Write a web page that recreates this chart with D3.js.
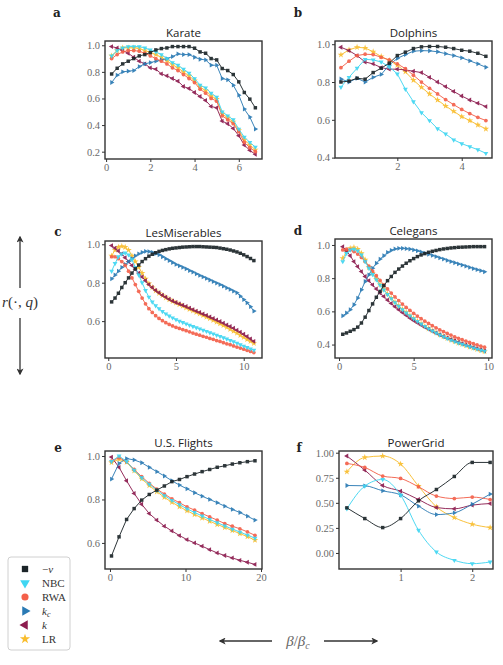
<!DOCTYPE html>
<html>
<head>
<meta charset="utf-8">
<script src="https://cdn.jsdelivr.net/npm/d3@7/dist/d3.min.js"></script>
<style>
body { margin: 0; background: #fff; }
.tick text { fill: #6a6a6a; }
.tick line { stroke: #333; }
.title { font-family: "Open Sans", "DejaVu Sans", sans-serif; font-size: 11.5px; fill: #222; }
.letter { font-family: "DejaVu Serif", serif; font-weight: bold; font-size: 12px; fill: #222; }
</style>
</head>
<body>
<div id="chart"></div>
<script>
// ---- data ----
var seriesLabels = ["-v", "NBC", "RWA", "kc", "k", "LR"];
var seriesColors = ["#1b2428", "#3fd6f2", "#f4604a", "#2a7ab4", "#8d1c4f", "#f9bd2d"];

var karateX = d3.range(0.25, 6.76, 0.25);
var karate_v   = [0.784,0.827,0.86,0.88,0.90,0.92,0.93,0.945,0.965,0.975,0.98,0.99,0.99,0.99,0.99,0.978,0.95,0.94,0.90,0.89,0.825,0.81,0.78,0.725,0.645,0.595,0.53];
var karate_nbc = [0.92,0.96,0.98,0.99,0.99,0.99,0.98,0.965,0.95,0.93,0.90,0.87,0.85,0.82,0.79,0.75,0.70,0.68,0.64,0.61,0.50,0.47,0.44,0.37,0.31,0.27,0.235];
var karate_rwa = [0.90,0.93,0.95,0.96,0.96,0.955,0.94,0.92,0.90,0.88,0.86,0.83,0.81,0.78,0.75,0.72,0.67,0.64,0.60,0.58,0.47,0.44,0.41,0.35,0.27,0.23,0.20];
var karate_kc  = [0.72,0.775,0.80,0.805,0.81,0.84,0.86,0.87,0.88,0.89,0.90,0.915,0.935,0.93,0.93,0.91,0.895,0.89,0.85,0.85,0.75,0.74,0.70,0.625,0.52,0.46,0.37];
var karate_k   = [0.99,0.98,0.96,0.94,0.91,0.88,0.86,0.83,0.82,0.785,0.77,0.75,0.73,0.69,0.675,0.645,0.615,0.585,0.54,0.53,0.43,0.41,0.375,0.32,0.25,0.21,0.18];
var karate_lr  = [0.92,0.96,0.98,0.98,0.98,0.975,0.96,0.945,0.93,0.91,0.885,0.855,0.83,0.80,0.77,0.735,0.685,0.66,0.62,0.595,0.485,0.455,0.425,0.36,0.29,0.25,0.215];

var dolphinsX = d3.range(0.25, 4.76, 0.25);
var dolphins_v   = [0.80,0.805,0.82,0.815,0.85,0.873,0.90,0.94,0.958,0.977,0.986,0.988,0.988,0.984,0.977,0.968,0.963,0.952,0.936];
var dolphins_nbc = [0.773,0.825,0.873,0.92,0.917,0.906,0.88,0.843,0.762,0.696,0.638,0.596,0.553,0.525,0.494,0.474,0.458,0.442,0.423];
var dolphins_rwa = [0.876,0.91,0.94,0.947,0.945,0.931,0.917,0.896,0.871,0.836,0.80,0.767,0.737,0.707,0.68,0.655,0.633,0.613,0.596];
var dolphins_kc  = [0.816,0.80,0.82,0.80,0.825,0.84,0.89,0.925,0.945,0.963,0.966,0.965,0.96,0.95,0.94,0.928,0.912,0.896,0.878];
var dolphins_k   = [0.984,0.966,0.94,0.906,0.896,0.876,0.868,0.868,0.864,0.857,0.85,0.825,0.80,0.776,0.75,0.726,0.705,0.688,0.67];
var dolphins_lr  = [0.944,0.97,0.984,0.98,0.96,0.935,0.914,0.889,0.854,0.81,0.772,0.737,0.705,0.673,0.645,0.617,0.596,0.573,0.552];

var lesmisX = d3.range(0.25, 10.76, 0.25);
var lesmis_v   = [0.70,0.72,0.745,0.775,0.80,0.825,0.85,0.872,0.892,0.91,0.925,0.938,0.948,0.956,0.963,0.968,0.972,0.976,0.979,0.981,0.983,0.985,0.986,0.987,0.988,0.988,0.988,0.987,0.986,0.985,0.984,0.983,0.98,0.977,0.974,0.97,0.965,0.96,0.953,0.945,0.936,0.926,0.915];
var lesmis_nbc = [0.86,0.9,0.935,0.95,0.955,0.945,0.92,0.88,0.84,0.80,0.76,0.725,0.70,0.68,0.665,0.65,0.638,0.627,0.617,0.608,0.60,0.593,0.586,0.579,0.572,0.566,0.56,0.553,0.547,0.54,0.534,0.527,0.521,0.514,0.507,0.50,0.493,0.486,0.478,0.47,0.463,0.456,0.449];
var lesmis_rwa = [0.935,0.935,0.925,0.91,0.89,0.86,0.825,0.79,0.755,0.72,0.69,0.665,0.645,0.628,0.614,0.602,0.592,0.583,0.575,0.568,0.562,0.556,0.55,0.544,0.538,0.532,0.527,0.521,0.516,0.51,0.505,0.499,0.494,0.488,0.482,0.477,0.471,0.465,0.46,0.454,0.448,0.442,0.436];
var lesmis_kc  = [0.82,0.84,0.86,0.88,0.895,0.91,0.925,0.94,0.95,0.958,0.963,0.962,0.958,0.952,0.945,0.935,0.925,0.915,0.905,0.895,0.888,0.88,0.872,0.863,0.855,0.846,0.838,0.83,0.822,0.814,0.806,0.798,0.79,0.782,0.773,0.765,0.756,0.747,0.73,0.712,0.695,0.675,0.652];
var lesmis_k   = [0.993,0.98,0.965,0.95,0.93,0.91,0.89,0.87,0.85,0.83,0.81,0.79,0.775,0.76,0.748,0.735,0.725,0.714,0.705,0.697,0.69,0.683,0.676,0.668,0.66,0.652,0.645,0.637,0.63,0.622,0.614,0.606,0.598,0.59,0.58,0.572,0.563,0.553,0.543,0.532,0.52,0.508,0.495];
var lesmis_lr  = [0.94,0.97,0.985,0.99,0.985,0.97,0.94,0.91,0.88,0.85,0.82,0.795,0.775,0.758,0.745,0.733,0.722,0.712,0.703,0.695,0.687,0.679,0.67,0.662,0.654,0.646,0.638,0.63,0.622,0.614,0.605,0.596,0.587,0.578,0.568,0.558,0.548,0.538,0.527,0.516,0.505,0.495,0.485];

var celegansX = d3.range(0.25, 9.76, 0.25);
var celegans_v   = [0.462,0.47,0.48,0.49,0.505,0.53,0.565,0.605,0.645,0.685,0.72,0.755,0.785,0.81,0.835,0.855,0.873,0.89,0.905,0.918,0.93,0.94,0.948,0.956,0.962,0.967,0.972,0.976,0.979,0.982,0.984,0.986,0.987,0.988,0.989,0.99,0.99,0.99,0.99];
var celegans_nbc = [0.9,0.95,0.97,0.975,0.965,0.94,0.9,0.86,0.823,0.79,0.758,0.729,0.702,0.677,0.653,0.631,0.61,0.591,0.573,0.556,0.54,0.524,0.509,0.495,0.482,0.47,0.458,0.447,0.437,0.427,0.418,0.41,0.402,0.394,0.387,0.38,0.373,0.366,0.36];
var celegans_rwa = [0.97,0.975,0.97,0.96,0.945,0.925,0.9,0.872,0.843,0.815,0.787,0.76,0.735,0.71,0.687,0.665,0.644,0.624,0.606,0.588,0.572,0.556,0.541,0.527,0.514,0.501,0.489,0.478,0.467,0.457,0.447,0.438,0.429,0.421,0.413,0.405,0.398,0.391,0.384];
var celegans_kc  = [0.573,0.59,0.61,0.64,0.68,0.73,0.78,0.82,0.86,0.89,0.915,0.935,0.955,0.968,0.976,0.98,0.98,0.978,0.975,0.97,0.965,0.958,0.951,0.944,0.937,0.93,0.922,0.915,0.907,0.90,0.893,0.886,0.879,0.872,0.865,0.858,0.851,0.845,0.838];
var celegans_k   = [0.99,0.965,0.935,0.9,0.87,0.84,0.81,0.785,0.76,0.735,0.71,0.69,0.668,0.648,0.628,0.61,0.593,0.576,0.56,0.545,0.531,0.518,0.505,0.493,0.481,0.47,0.459,0.449,0.44,0.431,0.423,0.414,0.406,0.398,0.39,0.383,0.376,0.369,0.362];
var celegans_lr  = [0.92,0.96,0.98,0.985,0.975,0.95,0.91,0.865,0.83,0.795,0.762,0.733,0.705,0.68,0.656,0.634,0.613,0.594,0.575,0.558,0.541,0.525,0.51,0.496,0.483,0.471,0.459,0.448,0.438,0.428,0.419,0.41,0.402,0.394,0.386,0.379,0.372,0.365,0.358];

var flightsX = d3.range(0.2, 19.3, 1);
var flights_v   = [0.54,0.628,0.708,0.758,0.797,0.823,0.843,0.862,0.882,0.892,0.905,0.917,0.928,0.938,0.948,0.955,0.963,0.969,0.974,0.978];
var flights_nbc = [0.975,1.0,0.975,0.935,0.9,0.87,0.843,0.818,0.796,0.776,0.757,0.74,0.724,0.708,0.693,0.678,0.664,0.65,0.636,0.622];
var flights_rwa = [0.977,0.992,0.974,0.938,0.905,0.874,0.848,0.825,0.803,0.785,0.766,0.751,0.735,0.72,0.705,0.689,0.677,0.665,0.651,0.635];
var flights_kc  = [0.894,0.966,0.988,0.982,0.969,0.948,0.928,0.908,0.886,0.866,0.849,0.831,0.815,0.80,0.785,0.769,0.754,0.74,0.723,0.705];
var flights_k   = [0.995,0.948,0.886,0.828,0.778,0.735,0.705,0.677,0.655,0.634,0.615,0.60,0.585,0.569,0.554,0.542,0.531,0.52,0.511,0.501];
var flights_lr  = [0.97,0.985,0.972,0.932,0.895,0.864,0.836,0.81,0.787,0.767,0.748,0.731,0.715,0.7,0.685,0.671,0.657,0.643,0.629,0.613];

var powerX = d3.range(0.25, 2.26, 0.25);
var power_v   = [0.45,0.343,0.253,0.343,0.52,0.633,0.763,0.903,0.903];
var power_nbc = [0.44,0.667,0.733,0.577,0.227,0.01,-0.073,-0.107,-0.09];
var power_rwa = [0.893,0.853,0.767,0.743,0.66,0.567,0.543,0.557,0.533];
var power_kc  = [0.673,0.67,0.62,0.58,0.467,0.383,0.40,0.487,0.587];
var power_k   = [0.967,0.827,0.673,0.617,0.533,0.453,0.44,0.477,0.493];
var power_lr  = [0.81,0.953,0.967,0.887,0.667,0.46,0.353,0.287,0.253];

// ---- layout ----
var fullWidth = 503, fullHeight = 665;

var panels = [
  {letter:"a", title:"Karate", x:karateX, ys:[karate_v,karate_nbc,karate_rwa,karate_kc,karate_k,karate_lr],
   left:105, top:41, w:157, h:118, xd:[-0.05,7.05], yd:[0.145,1.032], xt:[0,2,4,6], yt:[0.2,0.4,0.6,0.8,1.0], yf:".1f", lx:57, ly:17},
  {letter:"b", title:"Dolphins", x:dolphinsX, ys:[dolphins_v,dolphins_nbc,dolphins_rwa,dolphins_kc,dolphins_k,dolphins_lr],
   left:335, top:41, w:157, h:117, xd:[0.065,4.94], yd:[0.398,1.017], xt:[2,4], yt:[0.4,0.6,0.8,1.0], yf:".1f", lx:298, ly:17},
  {letter:"c", title:"LesMiserables", x:lesmisX, ys:[lesmis_v,lesmis_nbc,lesmis_rwa,lesmis_kc,lesmis_k,lesmis_lr],
   left:105, top:241, w:157, h:117, xd:[-0.24,11.35], yd:[0.408,1.017], xt:[0,5,10], yt:[0.6,0.8,1.0], yf:".1f", lx:58, ly:236},
  {letter:"d", title:"Celegans", x:celegansX, ys:[celegans_v,celegans_nbc,celegans_rwa,celegans_kc,celegans_k,celegans_lr],
   left:335, top:239, w:157, h:119, xd:[-0.27,10.25], yd:[0.319,1.036], xt:[0,5,10], yt:[0.4,0.6,0.8,1.0], yf:".1f", lx:298, ly:235},
  {letter:"e", title:"U.S. Flights", x:flightsX, ys:[flights_v,flights_nbc,flights_rwa,flights_kc,flights_k,flights_lr],
   left:105, top:451, w:157, h:118, xd:[-0.66,20.13], yd:[0.48,1.023], xt:[0,10,20], yt:[0.6,0.8,1.0], yf:".1f", lx:58, ly:452},
  {letter:"f", title:"PowerGrid", x:powerX, ys:[power_v,power_nbc,power_rwa,power_kc,power_k,power_lr],
   left:339, top:451, w:154, h:118, xd:[0.14,2.29], yd:[-0.16,1.017], xt:[1,2], yt:[0,0.25,0.5,0.75,1.0], yf:".2f", lx:299, ly:452, smooth:true}
];

var symbolTypes = [d3.symbolSquare, d3.symbolTriangle, d3.symbolCircle, d3.symbolTriangle, d3.symbolTriangle, d3.symbolStar];
var symbolRot   = [0, 180, 0, 90, -90, 0];
var symbolSize  = [12, 10, 11, 10, 10, 13];

var svg = d3.select("#chart").append("svg")
    .attr("width", fullWidth)
    .attr("height", fullHeight)
    .style("background", "#fff");

var defs = svg.append("defs");
defs.append("marker")
    .attr("id", "head")
    .attr("viewBox", "0 0 10 10")
    .attr("refX", 8).attr("refY", 5)
    .attr("markerWidth", 7).attr("markerHeight", 7)
    .attr("markerUnits", "userSpaceOnUse")
    .attr("orient", "auto")
  .append("path")
    .attr("d", "M0,0 L10,5 L0,10 L2.5,5 Z")
    .attr("fill", "#333");

// draw order: LR first, -v last
var drawOrder = [5, 4, 3, 2, 1, 0];

panels.forEach(function(p) {
    var g = svg.append("g").attr("transform", "translate(" + p.left + "," + p.top + ")");

    var xScale = d3.scaleLinear().domain(p.xd).range([0, p.w]);
    var yScale = d3.scaleLinear().domain(p.yd).range([p.h, 0]);

    g.append("g")
      .attr("transform", "translate(0," + p.h + ")")
      .call(d3.axisBottom(xScale).tickValues(p.xt).tickFormat(d3.format("d")).tickSize(3).tickPadding(2))
      .attr("font-family", "'Liberation Serif', 'DejaVu Serif', serif")
      .attr("font-size", 10.5)
      .call(function(a) { a.select(".domain").remove(); });

    g.append("g")
      .call(d3.axisLeft(yScale).tickValues(p.yt).tickFormat(d3.format(p.yf)).tickSize(3).tickPadding(2))
      .attr("font-family", "'Liberation Serif', 'DejaVu Serif', serif")
      .attr("font-size", 10.5)
      .call(function(a) { a.select(".domain").remove(); });

    var line = d3.line()
      .x(function(d) { return xScale(d[0]); })
      .y(function(d) { return yScale(d[1]); })
      .curve(p.smooth ? d3.curveMonotoneX : d3.curveLinear);

    drawOrder.forEach(function(s) {
        var pts = p.x.map(function(xv, i) { return [xv, p.ys[s][i]]; });
        var sg = g.append("g").attr("opacity", 0.92);
        sg.append("path")
          .datum(pts)
          .attr("fill", "none")
          .attr("stroke", seriesColors[s])
          .attr("stroke-width", 1)
          .attr("d", line);
        sg.selectAll("path.pt")
          .data(pts)
          .enter()
          .append("path")
          .attr("class", "pt")
          .attr("d", d3.symbol().type(symbolTypes[s]).size(symbolSize[s]))
          .attr("fill", seriesColors[s])
          .attr("transform", function(d) {
              return "translate(" + xScale(d[0]) + "," + yScale(d[1]) + ") rotate(" + symbolRot[s] + ")";
          });
    });

    g.append("rect")
      .attr("width", p.w)
      .attr("height", p.h)
      .attr("fill", "none")
      .attr("stroke", "#333")
      .attr("stroke-width", 1.4);

    g.append("text")
      .attr("class", "title")
      .attr("x", p.w / 2)
      .attr("y", -4)
      .attr("text-anchor", "middle")
      .text(p.title);

    svg.append("text")
      .attr("class", "letter")
      .attr("x", p.lx)
      .attr("y", p.ly)
      .attr("text-anchor", "middle")
      .text(p.letter);
});

// ---- legend ----
var legend = svg.append("g").attr("transform", "translate(8,557)");
legend.append("rect")
    .attr("width", 62).attr("height", 93)
    .attr("rx", 3)
    .attr("fill", "#fff")
    .attr("stroke", "#d0d0d0");

seriesLabels.forEach(function(lab, s) {
    var yy = 12 + s * 14;
    legend.append("path")
      .attr("d", d3.symbol().type(symbolTypes[s]).size(s === 5 ? 32 : 40))
      .attr("fill", seriesColors[s])
      .attr("transform", "translate(17," + yy + ") rotate(" + symbolRot[s] + ")");
    var t = legend.append("text")
      .attr("x", 34).attr("y", yy + 3.5)
      .style("font-family", "'Liberation Serif', serif")
      .style("font-size", "11px")
      .attr("fill", "#333");
    if (lab === "-v") {
        t.append("tspan").text("\u2212");
        t.append("tspan").style("font-style", "italic").text("v");
    } else if (lab === "kc") {
        t.append("tspan").style("font-style", "italic").text("k");
        t.append("tspan").style("font-style", "italic").style("font-size", "8px").attr("dy", 2).text("c");
    } else if (lab === "k") {
        t.append("tspan").style("font-style", "italic").text("k");
    } else {
        t.text(lab);
    }
});

// ---- axis labels with arrows ----
svg.append("line")
    .attr("x1", 20).attr("y1", 288).attr("x2", 20).attr("y2", 237)
    .attr("stroke", "#333").attr("stroke-width", 1.3)
    .attr("marker-end", "url(#head)");
svg.append("line")
    .attr("x1", 20).attr("y1", 318).attr("x2", 20).attr("y2", 374)
    .attr("stroke", "#333").attr("stroke-width", 1.3)
    .attr("marker-end", "url(#head)");

var rl = svg.append("text")
    .attr("x", 20).attr("y", 307)
    .attr("text-anchor", "middle")
    .style("font-family", "'Liberation Serif', serif")
    .style("font-size", "15px")
    .attr("fill", "#333");
rl.append("tspan").style("font-style", "italic").text("r");
rl.append("tspan").text("(\u00b7, ");
rl.append("tspan").style("font-style", "italic").text("q");
rl.append("tspan").text(")");

svg.append("line")
    .attr("x1", 272).attr("y1", 641).attr("x2", 220).attr("y2", 641)
    .attr("stroke", "#333").attr("stroke-width", 1.3)
    .attr("marker-end", "url(#head)");
svg.append("line")
    .attr("x1", 324).attr("y1", 641).attr("x2", 377).attr("y2", 641)
    .attr("stroke", "#333").attr("stroke-width", 1.3)
    .attr("marker-end", "url(#head)");

var bl = svg.append("text")
    .attr("x", 298).attr("y", 646)
    .attr("text-anchor", "middle")
    .style("font-family", "'Liberation Serif', serif")
    .style("font-size", "15px")
    .attr("fill", "#666");
bl.append("tspan").style("font-style", "italic").text("\u03b2");
bl.append("tspan").text("/");
bl.append("tspan").style("font-style", "italic").text("\u03b2");
bl.append("tspan").style("font-style", "italic").style("font-size", "10px").attr("dy", 3).text("c");
</script>
</body>
</html>
